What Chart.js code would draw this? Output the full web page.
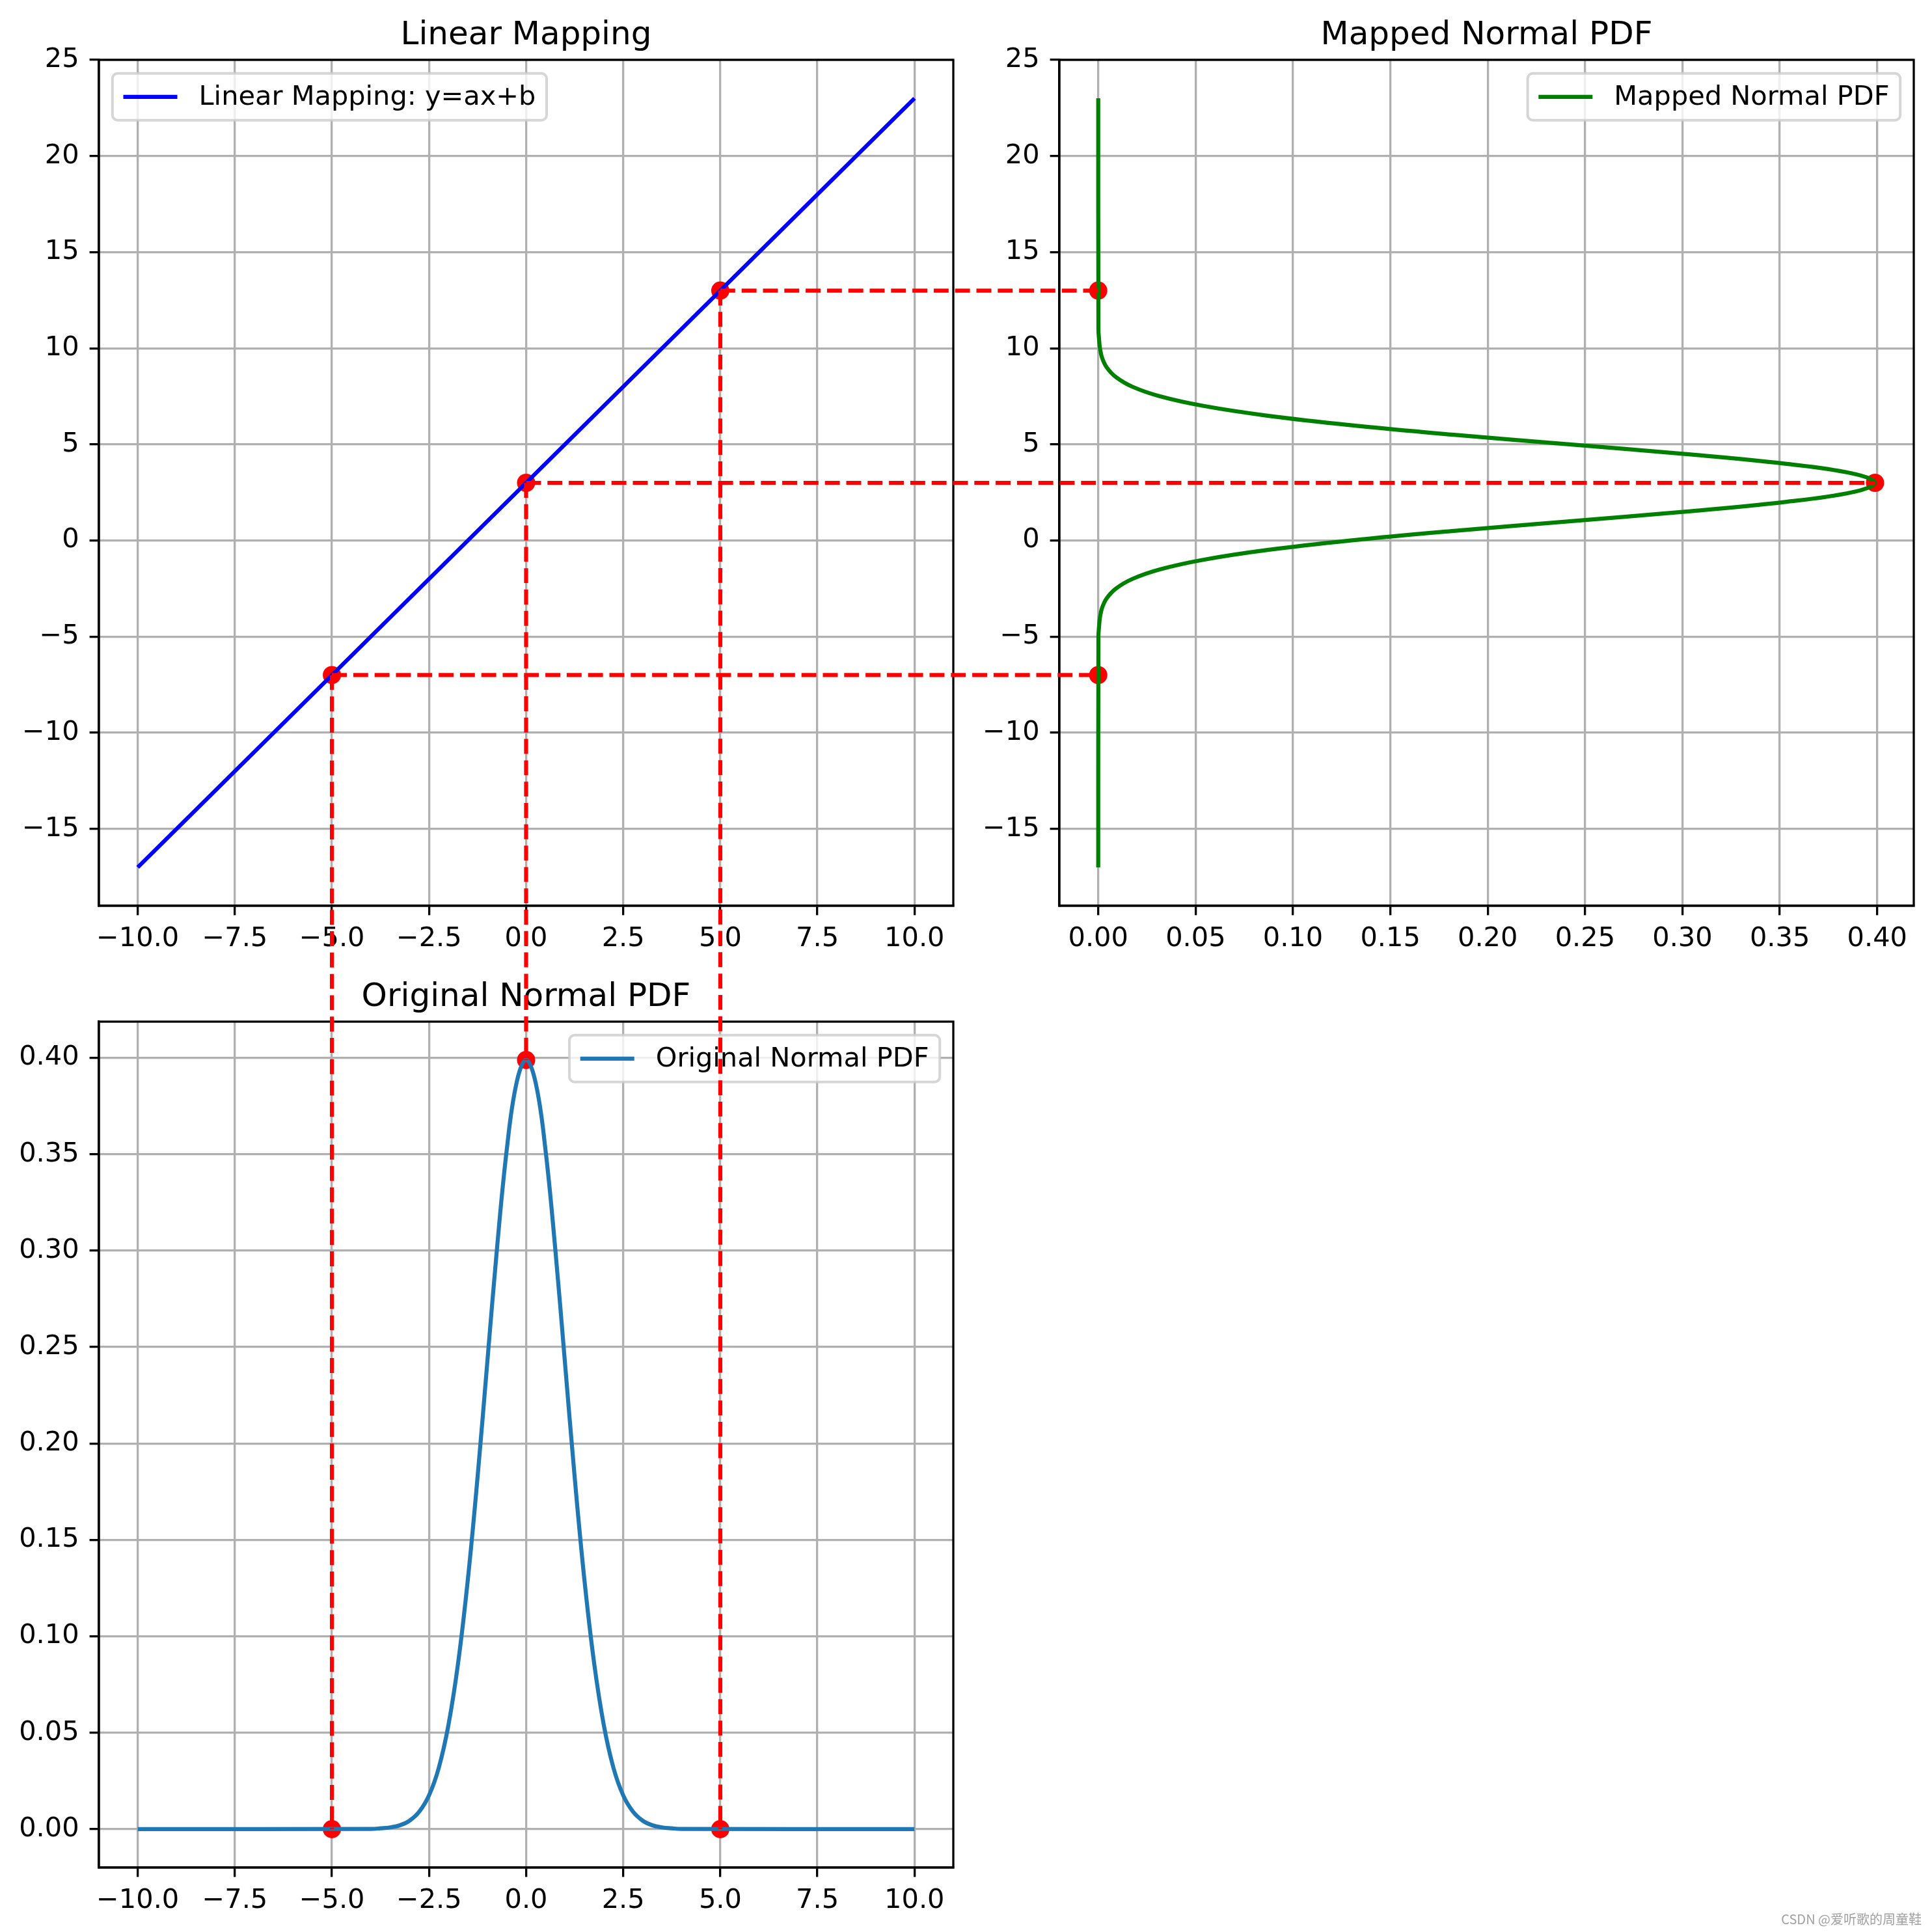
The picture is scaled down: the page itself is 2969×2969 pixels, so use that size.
<!DOCTYPE html>
<html>
<head>
<meta charset="utf-8">
<script src="https://cdn.jsdelivr.net/npm/chart.js@4.4.1/dist/chart.umd.min.js"></script>
<style>
  html, body { margin: 0; padding: 0; background: #fff; }
  #page { position: relative; width: 2969px; height: 2969px; background: #fff; overflow: hidden; }
  #page canvas { position: absolute; }
  #overlay { left: 0; top: 0; pointer-events: none; z-index: 10; }
  #mark { position: absolute; right: 16px; top: 2934px; font: 20px "Noto Sans CJK SC", sans-serif; color: #a0a0a0; z-index: 11; }
</style>
</head>
<body>
<div id="page">
  <canvas id="linear" width="1469" height="1492" style="left:0px;top:0px"></canvas>
  <canvas id="mapped" width="1469" height="1492" style="left:1476px;top:0px"></canvas>
  <canvas id="original" width="1469" height="1492" style="left:0px;top:1478px"></canvas>
  <canvas id="overlay" width="2969" height="2969"></canvas>
  <div id="mark">CSDN @爱听歌的周童鞋</div>
</div>
<script>
// straight line y = ax + b, both ends
const lineX = [-10, 10];
const lineY = [-17, 23];

// bell curve of the bottom plot
const pdfX = [-10, -4, -3.75, -3.5, -3.25, -3, -2.75, -2.5, -2.25, -2, -1.75, -1.5, -1.25, -1, -0.75, -0.5, -0.25,
  0, 0.25, 0.5, 0.75, 1, 1.25, 1.5, 1.75, 2, 2.25, 2.5, 2.75, 3, 3.25, 3.5, 3.75, 4, 10];
const pdfY = [0, 0.0001, 0.0004, 0.0009, 0.0020, 0.0044, 0.0091, 0.0175, 0.0317, 0.0540, 0.0863, 0.1295, 0.1826, 0.2420, 0.3011, 0.3521, 0.3867,
  0.3989, 0.3867, 0.3521, 0.3011, 0.2420, 0.1826, 0.1295, 0.0863, 0.0540, 0.0317, 0.0175, 0.0091, 0.0044, 0.0020, 0.0009, 0.0004, 0.0001, 0];

// same curve on its side in the top-right plot
const mappedPos = [-17, -5, -4.5, -4, -3.5, -3, -2.5, -2, -1.5, -1, -0.5, 0, 0.5, 1, 1.5, 2, 2.5,
  3, 3.5, 4, 4.5, 5, 5.5, 6, 6.5, 7, 7.5, 8, 8.5, 9, 9.5, 10, 10.5, 11, 23];
const mappedPdf = [0, 0.0001, 0.0004, 0.0009, 0.0020, 0.0044, 0.0091, 0.0175, 0.0317, 0.0540, 0.0863, 0.1295, 0.1826, 0.2420, 0.3011, 0.3521, 0.3867,
  0.3989, 0.3867, 0.3521, 0.3011, 0.2420, 0.1826, 0.1295, 0.0863, 0.0540, 0.0317, 0.0175, 0.0091, 0.0044, 0.0020, 0.0009, 0.0004, 0.0001, 0];

// the three marked inputs, their images and their densities
const markX = [-5, 0, 5];
const markY = [-7, 3, 13];
const markPdf = [0, 0.3989, 0];

// ticks
const xTicks = [-10, -7.5, -5, -2.5, 0, 2.5, 5, 7.5, 10];
const xTickLabels = ['\u221210.0', '\u22127.5', '\u22125.0', '\u22122.5', '0.0', '2.5', '5.0', '7.5', '10.0'];
const yTicks = [-15, -10, -5, 0, 5, 10, 15, 20, 25];
const yTickLabels = ['\u221215', '\u221210', '\u22125', '0', '5', '10', '15', '20', '25'];
const pdfTicks = [0, 0.05, 0.1, 0.15, 0.2, 0.25, 0.3, 0.35, 0.4];
const pdfTickLabels = ['0.00', '0.05', '0.10', '0.15', '0.20', '0.25', '0.30', '0.35', '0.40'];

Chart.defaults.font.family = '"DejaVu Sans"';

const pts = (xs, ys) => xs.map((x, i) => ({ x: x, y: ys[i] }));

function axis(pos, min, max, ticks, labels) {
  return {
    type: 'linear', position: pos, min: min, max: max,
    afterBuildTicks: s => { s.ticks = ticks.map(v => ({ value: v })); },
    afterFit: s => {
      if (pos === 'left') s.width = 152; else s.height = 100;
      // keep the plot box fixed, labels may hang over
      s.paddingLeft = s.paddingRight = s.paddingTop = s.paddingBottom = 0;
    },
    ticks: {
      callback: (v, i) => labels[i], color: '#000', font: { size: 41.5 },
      padding: pos === 'left' ? 16 : 12, autoSkip: false, maxRotation: 0
    },
    grid: { color: '#b0b0b0', lineWidth: 3.3, tickColor: '#000', tickWidth: 3.3, tickLength: 14.4 },
    border: { display: true, color: '#000', width: 3.3 }
  };
}

// spines on all sides, title and matplotlib-like legend
const frame = {
  id: 'frame',
  afterDatasetsDraw(chart, args, opts) {
    const ctx = chart.ctx, a = chart.chartArea;
    ctx.save();
    ctx.strokeStyle = '#000';
    ctx.lineWidth = 3.3;
    ctx.strokeRect(a.left, a.top, a.right - a.left, a.bottom - a.top);

    ctx.fillStyle = '#000';
    ctx.font = '50px "DejaVu Sans"';
    ctx.textAlign = 'center';
    ctx.textBaseline = 'alphabetic';
    ctx.fillText(opts.title, (a.left + a.right) / 2, a.top - 24.5);

    const ds = chart.data.datasets[0];
    ctx.font = '41.5px "DejaVu Sans"';
    const tw = ctx.measureText(ds.label).width;
    const pad = 16.7, hl = 83, tp = 33, h = 72;
    const w = pad + hl + tp + tw + pad;
    const x0 = opts.side === 'left' ? a.left + 20.8 : a.right - 20.8 - w;
    const y0 = a.top + 20.8;
    ctx.beginPath();
    ctx.roundRect(x0, y0, w, h, 8);
    ctx.fillStyle = 'rgba(255,255,255,0.8)';
    ctx.fill();
    ctx.strokeStyle = 'rgba(204,204,204,0.8)';
    ctx.lineWidth = 4;
    ctx.stroke();
    ctx.beginPath();
    ctx.moveTo(x0 + pad, y0 + h / 2);
    ctx.lineTo(x0 + pad + hl, y0 + h / 2);
    ctx.strokeStyle = ds.borderColor;
    ctx.lineWidth = 6.2;
    ctx.stroke();
    ctx.fillStyle = '#000';
    ctx.textAlign = 'left';
    ctx.textBaseline = 'middle';
    ctx.fillText(ds.label, x0 + pad + hl + tp, y0 + h / 2 + 1);
    ctx.restore();
  }
};

function makeChart(id, line, dots, xAxis, yAxis, title, side) {
  return new Chart(document.getElementById(id), {
    type: 'scatter',
    data: {
      datasets: [
        Object.assign({ showLine: true, pointRadius: 0, borderWidth: 6.2, fill: false }, line),
        { data: dots, showLine: false, pointRadius: 14, pointBackgroundColor: '#ff0000', pointBorderWidth: 0 }
      ]
    },
    options: {
      responsive: false,
      animation: false,
      events: [],
      layout: { autoPadding: false, padding: { top: 92, right: 4, left: 0, bottom: 0 } },
      scales: { x: xAxis, y: yAxis },
      plugins: {
        legend: { display: false },
        tooltip: { enabled: false },
        frame: { title: title, side: side }
      }
    },
    plugins: [frame]
  });
}

const linChart = makeChart('linear',
  { label: 'Linear Mapping: y=ax+b', data: pts(lineX, lineY), borderColor: '#0000ff' },
  pts(markX, markY),
  axis('bottom', -11, 11, xTicks, xTickLabels),
  axis('left', -19, 25, yTicks, yTickLabels),
  'Linear Mapping', 'left');

const mapChart = makeChart('mapped',
  { label: 'Mapped Normal PDF', data: pts(mappedPdf, mappedPos), borderColor: '#008000', tension: 0.4 },
  pts(markPdf, markY),
  axis('bottom', -0.01995, 0.4188, pdfTicks, pdfTickLabels),
  axis('left', -19, 25, yTicks, yTickLabels),
  'Mapped Normal PDF', 'right');

const origChart = makeChart('original',
  { label: 'Original Normal PDF', data: pts(pdfX, pdfY), borderColor: '#1f77b4', tension: 0.4 },
  pts(markX, markPdf),
  axis('bottom', -11, 11, xTicks, xTickLabels),
  axis('left', -0.01995, 0.4188, pdfTicks, pdfTickLabels),
  'Original Normal PDF', 'right');

// red dashed connectors across the three plots, placed with each chart's own scales
function pagePx(chart, x, y) {
  const c = chart.canvas;
  return [c.offsetLeft + chart.scales.x.getPixelForValue(x), c.offsetTop + chart.scales.y.getPixelForValue(y)];
}

const ov = document.getElementById('overlay').getContext('2d');
ov.strokeStyle = '#ff0000';
ov.lineWidth = 6.2;
ov.setLineDash([22.9, 9.9]);
for (let i = 0; i < markX.length; i++) {
  const p = pagePx(linChart, markX[i], markY[i]);
  const q = pagePx(mapChart, markPdf[i], markY[i]);
  const r = pagePx(origChart, markX[i], markPdf[i]);
  ov.beginPath();
  ov.moveTo(p[0], p[1]);
  ov.lineTo(q[0], q[1]);
  ov.stroke();
  ov.beginPath();
  ov.moveTo(p[0], p[1]);
  ov.lineTo(r[0], r[1]);
  ov.stroke();
}
</script>
</body>
</html>
